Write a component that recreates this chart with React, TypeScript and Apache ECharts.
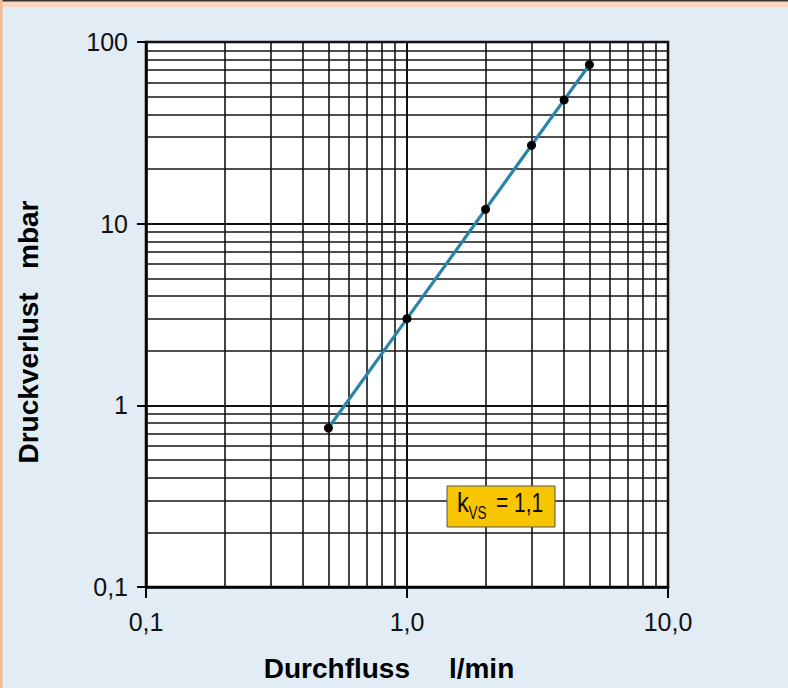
import React, { useEffect, useRef } from "react";
import * as echarts from "echarts";

// Data (flow l/min vs pressure loss mbar)
const flow = [0.5, 1, 2, 3, 4, 5];
const pressure = [0.75, 3, 12, 27, 48, 75];

// Axis ticks and labels
const xMajor = [0.1, 1, 10];
const xMajorLabels = ["0,1", "1,0", "10,0"];
const yMajor = [0.1, 1, 10, 100];
const yMajorLabels = ["0,1", "1", "10", "100"];
const xMinor = [0.2, 0.3, 0.4, 0.5, 0.6, 0.7, 0.8, 0.9, 2, 3, 4, 5, 6, 7, 8, 9];
const yMinor = [
  0.2, 0.3, 0.4, 0.5, 0.6, 0.7, 0.8, 0.9,
  2, 3, 4, 5, 6, 7, 8, 9,
  20, 30, 40, 50, 60, 70, 80, 90,
];

const xTitle = "Durchfluss     l/min";
const yTitle = "Druckverlust   mbar";
const kvsMain = "k";
const kvsSub = "VS";
const kvsValue = "= 1,1";

const FONT = "'Liberation Sans', Arial, sans-serif";

function labelFor(v: number, ticks: number[], labels: string[]) {
  let best = 0;
  let bestD = Infinity;
  ticks.forEach((t, i) => {
    const d = Math.abs(Math.log10(v) - Math.log10(t));
    if (d < bestD) {
      bestD = d;
      best = i;
    }
  });
  return bestD < 0.01 ? labels[best] : "";
}

export default function App() {
  const ref = useRef<HTMLDivElement>(null);

  useEffect(() => {
    if (!ref.current) return;
    const chart = echarts.init(ref.current, null, { renderer: "svg" });
    const gridLine = { color: "#151515", width: 1.6, type: "solid" as const };

    chart.setOption({
      animation: false,
      backgroundColor: "#e2ecf4",
      grid: {
        left: 146,
        right: 120,
        top: 42,
        bottom: 101,
        show: true,
        backgroundColor: "#ffffff",
        borderColor: "#000000",
        borderWidth: 2.5,
      },
      xAxis: {
        type: "log",
        logBase: 10,
        min: 0.1,
        max: 10,
        axisLine: { show: true, lineStyle: { color: "#000", width: 2.5 } },
        axisTick: { show: true, length: 11, lineStyle: { color: "#000", width: 2 } },
        axisLabel: {
          margin: 22,
          fontSize: 25,
          fontFamily: FONT,
          color: "#111",
          formatter: (v: number) => labelFor(v, xMajor, xMajorLabels),
        },
        splitLine: { show: true, lineStyle: { color: "#111", width: 2 } },
      },
      yAxis: {
        type: "log",
        logBase: 10,
        min: 0.1,
        max: 100,
        axisLine: { show: true, lineStyle: { color: "#000", width: 2.5 } },
        axisTick: { show: true, length: 9, lineStyle: { color: "#000", width: 2 } },
        axisLabel: {
          margin: 18,
          fontSize: 25,
          fontFamily: FONT,
          color: "#111",
          formatter: (v: number) => labelFor(v, yMajor, yMajorLabels),
        },
        splitLine: { show: true, lineStyle: { color: "#111", width: 2 } },
      },
      series: [
        {
          type: "line",
          data: [],
          silent: true,
          z: 1,
          markLine: {
            silent: true,
            symbol: ["none", "none"],
            label: { show: false },
            lineStyle: gridLine,
            data: [
              ...xMinor.map((v) => ({ xAxis: v })),
              ...yMinor.map((v) => ({ yAxis: v })),
            ],
          },
        },
        {
          type: "line",
          z: 5,
          data: flow.map((f, i) => [f, pressure[i]]),
          symbol: "circle",
          symbolSize: 9,
          showSymbol: true,
          itemStyle: { color: "#000" },
          lineStyle: { color: "#2a84a6", width: 3.2 },
        },
      ],
      graphic: [
        { type: "rect", left: 0, top: 0, shape: { width: 788, height: 7 }, style: { fill: "#fdd6bf" }, silent: true },
        { type: "rect", left: 0, top: 0, shape: { width: 788, height: 1.5 }, style: { fill: "#333333" }, silent: true },
        { type: "rect", left: 0, top: 0, shape: { width: 2.5, height: 688 }, style: { fill: "#f6b892" }, silent: true },
        {
          type: "text",
          x: 389,
          y: 668,
          style: {
            text: xTitle,
            fontSize: 28,
            fontWeight: "bold",
            fontFamily: FONT,
            fill: "#000",
            align: "center",
            verticalAlign: "middle",
          },
        },
        {
          type: "text",
          x: 28,
          y: 332,
          rotation: Math.PI / 2,
          style: {
            text: yTitle,
            fontSize: 28,
            fontWeight: "bold",
            fontFamily: FONT,
            fill: "#000",
            align: "center",
            verticalAlign: "middle",
          },
        },
        {
          type: "rect",
          z: 100,
          shape: { x: 447, y: 486, width: 108, height: 41 },
          style: { fill: "#f7c600", stroke: "#555", lineWidth: 1 },
        },
        {
          type: "text",
          z: 101,
          x: 457,
          y: 502,
          scaleX: 0.85,
          style: { text: kvsMain, fontSize: 28, fontFamily: FONT, fill: "#111", align: "left", verticalAlign: "middle" },
        },
        {
          type: "text",
          z: 101,
          x: 468.5,
          y: 513,
          scaleX: 0.75,
          style: { text: kvsSub, fontSize: 18, fontFamily: FONT, fill: "#111", align: "left", verticalAlign: "middle" },
        },
        {
          type: "text",
          z: 101,
          x: 496,
          y: 502,
          scaleX: 0.75,
          style: { text: kvsValue, fontSize: 28, fontFamily: FONT, fill: "#111", align: "left", verticalAlign: "middle" },
        },
      ],
    });
    return () => chart.dispose();
  }, []);

  return (
    <div
      ref={ref}
      style={{ position: "fixed", left: 0, top: 0, width: 788, height: 688 }}
    />
  );
}
